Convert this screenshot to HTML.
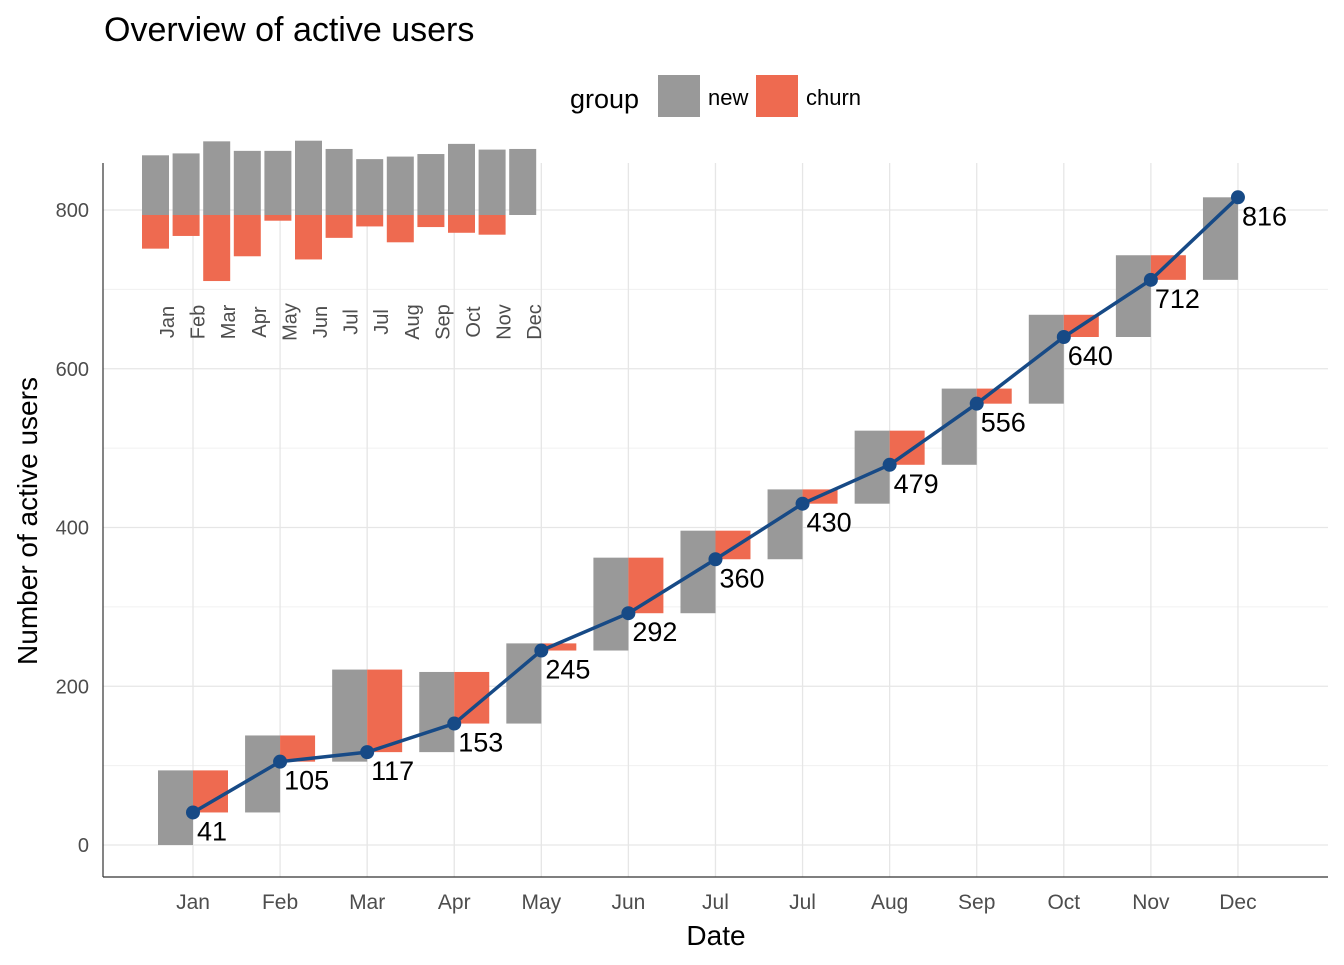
<!DOCTYPE html>
<html><head><meta charset="utf-8"><style>
body{margin:0;background:#fff;font-family:"Liberation Sans",Arial,sans-serif;}
svg text{font-family:"Liberation Sans",Arial,sans-serif;}
</style></head><body>
<svg id="chart" width="1344" height="960" xmlns="http://www.w3.org/2000/svg">
<text x="104" y="41" font-size="34" fill="#000">Overview of active users</text>
<g>
<text x="570" y="108" font-size="27" fill="#000">group</text>
<rect x="658" y="75" width="42" height="42" fill="#999999"/>
<text x="708" y="105" font-size="22">new</text>
<rect x="756" y="75" width="42" height="42" fill="#ee6a50"/>
<text x="806" y="105" font-size="22">churn</text>
</g>
<g id="grid"></g>
<g id="marks"></g>
<line x1="103" y1="163" x2="103" y2="877" stroke="#333" stroke-width="1.2"/>
<line x1="103" y1="877" x2="1328" y2="877" stroke="#333" stroke-width="1.2"/>
<text x="716" y="945" font-size="28" text-anchor="middle">Date</text>
<text transform="translate(37,521) rotate(-90)" font-size="28" text-anchor="middle">Number of active users</text>
</svg>
<script>
const months=["Jan","Feb","Mar","Apr","May","Jun","Jul","Jul","Aug","Sep","Oct","Nov","Dec"];
const newUsers=[94,97,116,101,101,117,104,88,92,96,112,103,104];
const churnUsers=[53,33,104,65,9,70,36,18,43,19,28,31,0];
const activeUsers=[41,105,117,153,245,292,360,430,479,556,640,712,816];
const yTicks=[0,200,400,600,800];
const yMinor=[100,300,500,700];
const NS="http://www.w3.org/2000/svg";
const xS=i=>193+i*87.08;
const yS=v=>845-v*0.79375;
const grid=document.getElementById('grid'),marks=document.getElementById('marks'),svg=document.getElementById('chart');
function mk(tag,attrs,parent){const e=document.createElementNS(NS,tag);for(const k in attrs)e.setAttribute(k,attrs[k]);parent.appendChild(e);return e;}
yMinor.forEach(v=>{const l=mk('line',{x1:103,x2:1328,y1:yS(v),y2:yS(v),stroke:'#f0f0f0','stroke-width':1},grid);

});
yTicks.forEach(v=>{const l=mk('line',{x1:103,x2:1328,y1:yS(v),y2:yS(v),stroke:'#e6e6e6','stroke-width':1.3},grid);


const t=mk('text',{x:89,y:yS(v)+7,'font-size':20,'text-anchor':'end',fill:'#4d4d4d'},svg);t.textContent=v;

});
months.forEach((m,i)=>{const l=mk('line',{x1:xS(i),x2:xS(i),y1:163,y2:877,stroke:'#e6e6e6','stroke-width':1.3},grid);


const t=mk('text',{x:xS(i),y:909,'font-size':21,'text-anchor':'middle',fill:'#4d4d4d'},svg);t.textContent=m;

});
months.forEach((m,i)=>{const prev=i?activeUsers[i-1]:0;const top=prev+newUsers[i];
const g=mk('rect',{x:xS(i)-35,width:35,y:yS(top),height:yS(prev)-yS(top),fill:'#999999'},marks);


if(churnUsers[i]>0){const r=mk('rect',{x:xS(i),width:35,y:yS(top),height:yS(activeUsers[i])-yS(top),fill:'#ee6a50'},marks);

}});
const baseY=215,insetScale=0.635;
months.forEach((m,i)=>{const x=142+i*30.6;
const g=mk('rect',{x:x,width:27,y:baseY-newUsers[i]*insetScale,height:newUsers[i]*insetScale,fill:'#999999'},marks);


if(churnUsers[i]>0){const r=mk('rect',{x:x,width:27,y:baseY,height:churnUsers[i]*insetScale,fill:'#ee6a50'},marks);

}
const t=mk('text',{transform:`translate(${x+32},322) rotate(-90)`,'font-size':20,'text-anchor':'middle',fill:'#4d4d4d'},svg);t.textContent=m;

});
const pts=activeUsers.map((v,i)=>xS(i)+','+yS(v)).join(' ');
const pl=mk('polyline',{points:pts,fill:'none',stroke:'#174a86','stroke-width':3.5},marks);


activeUsers.forEach((v,i)=>{const c=mk('circle',{cx:xS(i),cy:yS(v),r:7,fill:'#174a86'},marks);


const t=mk('text',{x:xS(i)+4,y:yS(v)+28,'font-size':27,fill:'#000'},marks);t.textContent=v;

});
</script>
</body></html>
